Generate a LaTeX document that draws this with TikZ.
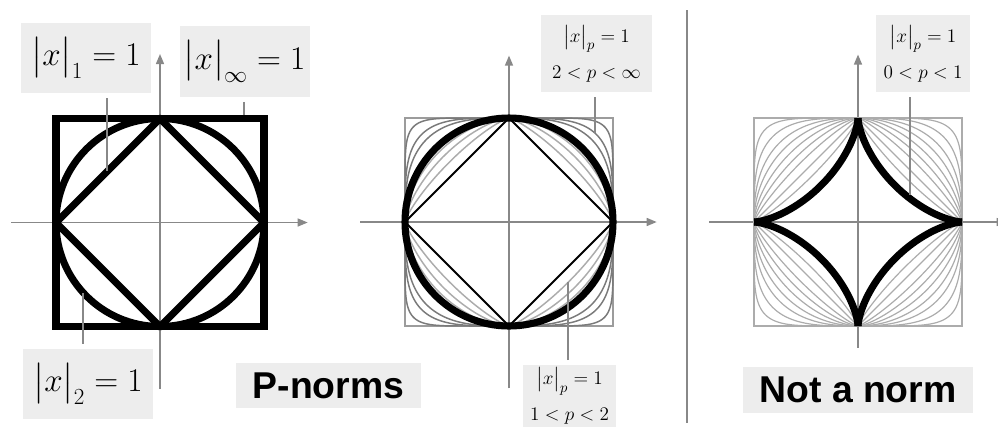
\documentclass[tikz,border=0pt]{standalone}
\usepackage{amsmath,amssymb}
\usepackage{fontspec}
\setsansfont{Liberation Sans}
\usepackage{tikz}
\usetikzlibrary{arrows.meta}

\definecolor{axisgray}{HTML}{888888}
\definecolor{boxgray}{HTML}{EDEDED}
\definecolor{lightcurve}{HTML}{ACACAC}
\definecolor{darkcurve}{HTML}{7A7A7A}
\definecolor{framegray}{HTML}{9C9C9C}

% unit ball of the p-norm, exponent #1 = 2/p
\newcommand{\pball}[2]{%
  \foreach \sx/\sy in {1/1,-1/1,-1/-1,1/-1}
    {\draw[#2,xscale=\sx,yscale=\sy] (1,0) -- plot[domain=0.05:89.95,samples=60]
      ({pow(cos(\x),#1)},{pow(sin(\x),#1)}) -- (0,1);}%
}

\begin{document}
\begin{tikzpicture}[x=0.75pt,y=-0.75pt,
    axis/.style={draw=axisgray,line width=1.1pt,-{Triangle[length=7.5pt,width=6pt]}},
    lead/.style={draw=axisgray,line width=1.1pt,shorten <=3.5pt},
    heavy/.style={line width=5.3pt},
    bigtag/.style={fill=boxgray,inner sep=0pt,minimum width=97.5pt,minimum height=53pt,
      font=\fontsize{25}{30}\selectfont},
    smalltag/.style={fill=boxgray,inner sep=0pt,align=center,font=\fontsize{15}{25}\selectfont},
    title/.style={fill=boxgray,inner sep=0pt,font=\fontsize{28}{32}\selectfont\sffamily\bfseries}]
  \clip (0,0) rectangle (998,430);

  \coordinate (c1) at (160,222.5);
  \coordinate (c2) at (509,222);
  \coordinate (c3) at (858,222);

  % P-norms: 1, 2, infinity
  \begin{scope}[shift={(c1)},x=78pt,y=78pt]
    \draw[axis] (-1.43,0) -- (1.42,0);
    \draw[axis] (0,-1.6) -- (0,1.62);
    \draw[heavy] (-1,-1) rectangle (1,1);
    \draw[heavy] (0,0) circle (1);
    \draw[heavy,line join=round] (1,0) -- (0,1) -- (-1,0) -- (0,-1) -- cycle;
  \end{scope}

  % P-norms: 1 < p < infinity
  \begin{scope}[shift={(c2)},x=78pt,y=78pt]
    \draw[axis] (-1.43,0) -- (1.42,0);
    \draw[axis] (0,-1.6) -- (0,1.6);
    \draw[framegray,line width=1.1pt] (-1,-1) rectangle (1,1);
    \foreach \e in {1.6,1.333,1.143}
      {\pball{\e}{lightcurve,line width=1.1pt}}
    \foreach \e in {0.667,0.5,0.25}
      {\pball{\e}{darkcurve,line width=1.1pt}}
    \draw[line width=1.5pt] (1,0) -- (0,1) -- (-1,0) -- (0,-1) -- cycle;
    \draw[heavy] (0,0) circle (1);
  \end{scope}

  % not a norm: 0 < p < 1
  \begin{scope}[shift={(c3)},x=78pt,y=78pt]
    \draw[axis] (-1.43,0) -- (1.43,0);
    \draw[axis] (0,-1.21) -- (0,1.61);
    \draw[lightcurve,line width=1.1pt] (-1,-1) rectangle (1,1);
    \foreach \e in {2.353,2,1.667,1.429,1.212,1,0.8,0.571,0.333}
      {\pball{\e}{lightcurve,line width=0.9pt}}
    \pball{3}{heavy,line join=round}
  \end{scope}

  \coordinate (septop) at (687,10);
  \coordinate (sepbot) at (687,423);
  \draw[axisgray,line width=1.1pt] (septop) -- (sepbot);

  \node[bigtag] (one) at (86,58) {$\bigl|x\bigr|_1 = 1$};
  \node[bigtag] (inf) at (244.5,61.5) {$\bigl|x\bigr|_\infty = 1$};
  \node[bigtag] (two) at (88,384) {$\bigl|x\bigr|_2 = 1$};
  \node[smalltag,minimum width=83pt,minimum height=58pt] (phigh) at (596.5,53.5)
    {$\bigl|x\bigr|_p = 1$\\[2pt]$2<p<\infty$};
  \node[smalltag,minimum width=70pt,minimum height=46.5pt] (plow) at (569.5,396)
    {$\bigl|x\bigr|_p = 1$\\[2pt]$1<p<2$};
  \node[smalltag,minimum width=70.5pt,minimum height=58pt] (pzero) at (923,53.5)
    {$\bigl|x\bigr|_p = 1$\\[2pt]$0<p<1$};
  \node[title,minimum width=139pt,minimum height=34pt] (pnorm) at (328.5,385.5) {P-norms};
  \node[title,minimum width=172.5pt,minimum height=34.5pt] (nonorm) at (858,390) {Not a norm};

  \coordinate (onetip) at (107,171);
  \coordinate (inftip) at (244,115);
  \coordinate (twotip) at (83,293);
  \coordinate (hightip) at (595,133);
  \coordinate (lowtip) at (568,282);
  \coordinate (zerotip) at (910,195);
  \draw[lead] (one.south -| onetip) -- (onetip);
  \draw[lead] (inf.south -| inftip) -- (inftip);
  \draw[lead] (two.north -| twotip) -- (twotip);
  \draw[lead] (phigh.south -| hightip) -- (hightip);
  \draw[lead] (plow.north -| lowtip) -- (lowtip);
  \draw[lead] (pzero.south -| zerotip) -- (zerotip);
\end{tikzpicture}
\end{document}
